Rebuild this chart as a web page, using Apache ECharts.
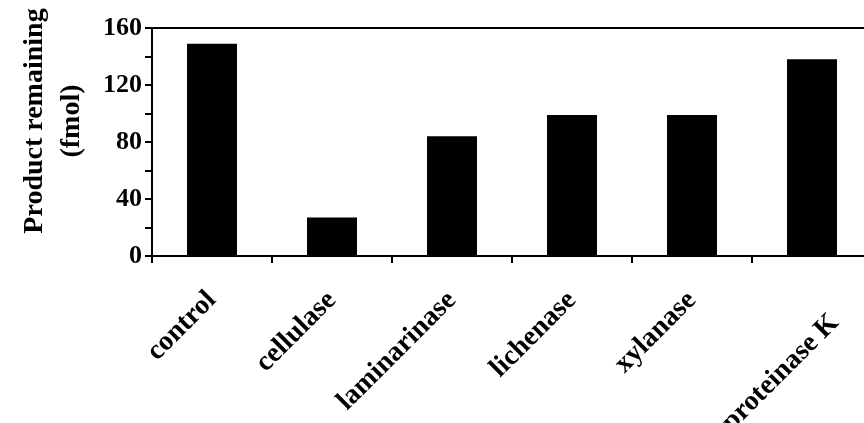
<!DOCTYPE html>
<html>
<head>
<meta charset="utf-8">
<script src="https://cdn.jsdelivr.net/npm/echarts@6/dist/echarts.min.js"></script>
<style>
html,body{margin:0;padding:0;background:#fff;}
#chart{width:864px;height:423px;}
</style>
</head>
<body>
<div id="chart"></div>
<script>
const categories = ['control', 'cellulase', 'laminarinase', 'lichenase', 'xylanase', 'proteinase K'];
const productRemaining = [149, 27, 84, 99, 99, 138];
const yTicks = [0, 40, 80, 120, 160];

const FONT = '"Liberation Serif", "Times New Roman", serif';
const chart = echarts.init(document.getElementById('chart'));
chart.setOption({
  animation: false,
  backgroundColor: '#fff',
  grid: {
    left: 152, right: -8, top: 28, bottom: 167,
    containLabel: false,
    outerBoundsMode: 'none',
    show: true, borderColor: '#000', borderWidth: 2, backgroundColor: 'transparent'
  },
  xAxis: {
    type: 'category',
    data: categories,
    axisLine: { lineStyle: { color: '#000', width: 2 } },
    axisTick: { show: true, length: 7, alignWithLabel: false, lineStyle: { color: '#000', width: 2 } },
    axisLabel: {
      rotate: 45, margin: 40, interval: 0,
      color: '#000', fontFamily: FONT, fontSize: 28, fontWeight: 'bold',
      formatter: (v) => v === 'proteinase K' ? '{low|' + v + '}' : v,
      rich: {
        low: { padding: [64, 0, 0, 0], color: '#000', fontFamily: FONT, fontSize: 28, fontWeight: 'bold' }
      }
    }
  },
  yAxis: {
    type: 'value',
    min: yTicks[0], max: yTicks[yTicks.length - 1], interval: 40,
    name: 'Product remaining\n(fmol)',
    nameLocation: 'middle',
    nameRotate: 90,
    nameGap: 62,
    nameTextStyle: { color: '#000', fontFamily: FONT, fontSize: 28, fontWeight: 'bold', lineHeight: 37, padding: [0, 0, 0, 42] },
    axisLine: { show: true, lineStyle: { color: '#000', width: 2 } },
    axisTick: { show: true, length: 7, lineStyle: { color: '#000', width: 2 } },
    minorTick: { show: true, splitNumber: 2, length: 7, lineStyle: { color: '#000', width: 2 } },
    splitLine: { show: false },
    axisLabel: { margin: 10, color: '#000', fontFamily: FONT, fontSize: 26, fontWeight: 'bold' }
  },
  series: [{
    type: 'bar',
    data: productRemaining,
    barWidth: 50,
    itemStyle: { color: '#000' }
  }]
});
</script>
</body>
</html>
